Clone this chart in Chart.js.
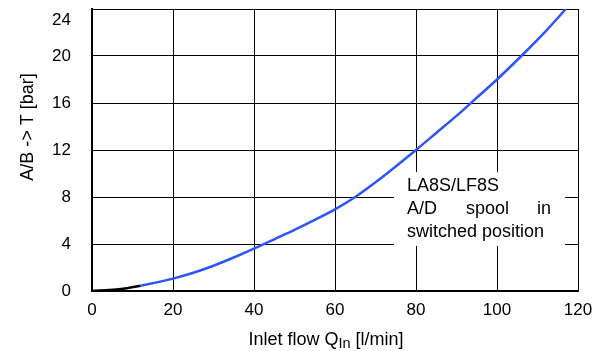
<!DOCTYPE html>
<html>
<head>
<meta charset="utf-8">
<script src="https://cdn.jsdelivr.net/npm/chart.js@4"></script>
<style>
  html, body { margin: 0; padding: 0; background: #fff; }
  #wrap { width: 595px; height: 351px; }
</style>
</head>
<body>
<div id="wrap"><canvas id="chart"></canvas></div>
<script>
// flow (l/min) vs pressure drop A/B -> T (bar)
const flow = [0, 6, 12, 20, 25, 30, 35, 40, 45, 50, 55, 60, 65, 70, 75, 80, 85, 90, 95, 100, 106, 112, 117];
const pressure = [0, 0.12, 0.45, 1.05, 1.55, 2.15, 2.85, 3.6, 4.4, 5.2, 6.05, 6.95, 8.0, 9.25, 10.6, 12.0, 13.45, 14.9, 16.45, 18.0, 20.0, 22.1, 24.0];
const xTicks = [0, 20, 40, 60, 80, 100, 120];
const yTicks = [0, 4, 8, 12, 16, 20, 24];
const noteLines = ["LA8S/LF8S", "A/D spool in", "switched position"];

const FONT = "'Liberation Sans', Arial, sans-serif";
const BLUE = "rgb(45, 85, 250)";

const overlay = {
  id: "overlay",
  afterDraw(chart) {
    const ctx = chart.ctx;
    const ys = chart.scales.y;
    ctx.save();
    // top y label sits lower, inside the picture
    ctx.fillStyle = "#000";
    ctx.font = "17px " + FONT;
    ctx.textAlign = "right";
    ctx.textBaseline = "middle";
    ctx.fillText(String(yTicks[yTicks.length - 1]), ys.right - 21, ys.getPixelForValue(yTicks[yTicks.length - 1]) + 11);

    // text box over the grid
    ctx.fillStyle = "#fff";
    ctx.fillRect(394, 172, 171, 74);
    ctx.fillStyle = "#000";
    ctx.font = "18px " + FONT;
    ctx.textBaseline = "alphabetic";
    ctx.textAlign = "left";
    ctx.fillText(noteLines[0], 407, 191);
    // justified line
    const words = noteLines[1].split(" ");
    ctx.fillText(words[0], 407, 214);
    ctx.textAlign = "right";
    ctx.fillText(words[2], 551, 214);
    ctx.textAlign = "left";
    ctx.fillText(words[1], 466, 214);
    ctx.fillText(noteLines[2], 407, 237);

    // x title with subscript
    const t1 = "Inlet flow Q", sub = "In", t2 = " [l/min]";
    const big = "18px " + FONT, small = "14.5px " + FONT;
    ctx.font = big;
    const w1 = ctx.measureText(t1).width;
    const w3 = ctx.measureText(t2).width;
    ctx.font = small;
    const w2 = ctx.measureText(sub).width;
    let x = 326 - (w1 + w2 + w3) / 2;
    const y = 345;
    ctx.font = big;
    ctx.fillText(t1, x, y);
    x += w1;
    ctx.font = small;
    ctx.fillText(sub, x, y + 3);
    x += w2;
    ctx.font = big;
    ctx.fillText(t2, x, y);

    // y title
    ctx.translate(28, 127);
    ctx.rotate(-Math.PI / 2);
    ctx.textAlign = "center";
    ctx.textBaseline = "middle";
    ctx.font = "18px " + FONT;
    ctx.fillText("A/B -> T [bar]", 0, 0);
    ctx.restore();
  }
};

new Chart(document.getElementById("chart"), {
  type: "line",
  data: {
    datasets: [{
      data: flow.map((f, i) => ({ x: f, y: pressure[i] })),
      borderColor: BLUE,
      borderWidth: 2.5,
      pointRadius: 0,
      cubicInterpolationMode: "monotone",
      segment: {
        borderColor: (c) => (c.p1.parsed.x <= 12 ? "#000" : BLUE)
      }
    }]
  },
  options: {
    responsive: true,
    maintainAspectRatio: false,
    animation: false,
    layout: { padding: { top: 9, right: 17, left: 0, bottom: 0 } },
    plugins: { legend: { display: false }, tooltip: { enabled: false } },
    scales: {
      x: {
        type: "linear",
        min: 0,
        max: 120,
        afterBuildTicks: (s) => { s.ticks = xTicks.map((v) => ({ value: v })); },
        afterFit: (s) => { s.height = 60; s.paddingLeft = 0; s.paddingRight = 0; },
        grid: { color: "#000", lineWidth: 1, drawTicks: false },
        border: { color: "#000", width: 2 },
        ticks: { color: "#000", font: { family: FONT, size: 17 }, padding: 9, maxRotation: 0 }
      },
      y: {
        min: 0,
        max: 24,
        afterBuildTicks: (s) => { s.ticks = yTicks.map((v) => ({ value: v })); },
        afterFit: (s) => { s.width = 92; s.paddingTop = 0; s.paddingBottom = 0; },
        grid: { color: "#000", lineWidth: 1, drawTicks: false },
        border: { color: "#000", width: 2 },
        ticks: {
          color: "#000",
          font: { family: FONT, size: 17 },
          padding: 21,
          // the top label is drawn by the overlay, a bit lower
          callback: (v) => (v === yTicks[yTicks.length - 1] ? "" : v)
        }
      }
    }
  },
  plugins: [overlay]
});
</script>
</body>
</html>
